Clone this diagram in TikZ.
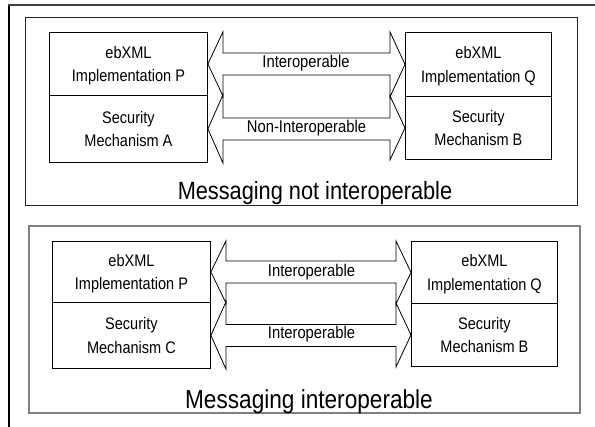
\documentclass[tikz,border=0pt]{standalone}
\usepackage{fontspec}
\setmainfont[FakeStretch=0.87]{Liberation Sans}
\usetikzlibrary{calc}
\tikzset{
  cell/.style={draw=black, line width=0.9pt, inner sep=0pt, align=center,
    text depth=0pt, font=\fontsize{16.7}{23.3}\selectfont, anchor=north west},
  arrowshape/.style={draw=black, line width=0.8pt, line join=miter},
  arrowlabel/.style={anchor=base, inner sep=0pt, font=\fontsize{17}{20}\selectfont},
  titlelabel/.style={anchor=base, inner sep=0pt},
  panel/.style={draw=#1, fill=none},
}
\newcommand{\dblarrow}[2]{%
  \draw[arrowshape] (#1.east)
    -- ($(#1.north east)+(15,0)$)
    -- ($(#1.east)+(15,-11)$)
    -- ($(#2.west |- #1.east)+(-15,-11)$)
    -- ($(#2.north west)+(-15,0)$)
    -- (#2.west)
    -- ($(#2.south west)+(-15,0)$)
    -- ($(#2.west |- #1.east)+(-15,11)$)
    -- ($(#1.east)+(15,11)$)
    -- ($(#1.south east)+(15,0)$)
    -- cycle;}
\begin{document}
\begin{tikzpicture}[x=1pt,y=-1pt]
\useasboundingbox (0,0) rectangle (595,427);
\fill[white] (0,0) rectangle (595,427);
\clip (0,0) rectangle (595,427);
% outer frame (cropped)
\draw[black, line width=2pt] (9,440) -- (9,5);
\draw[black!75, line width=2.4pt] (8,5) -- (600,5);
% ---------- top panel ----------
\draw[black!85, line width=0.9pt] (25,17) rectangle (577,205);
\node[cell, minimum width=158, minimum height=63] (TP1) at (49,32) {ebXML\\Implementation P};
\node[cell, minimum width=158, minimum height=67] (TP2) at (49,95) {Security\\Mechanism A};
\node[cell, minimum width=146, minimum height=64] (TQ1) at (405,32) {ebXML\\Implementation Q};
\node[cell, minimum width=146, minimum height=63] (TQ2) at (405,96) {Security\\Mechanism B};
\dblarrow{TP1}{TQ1}
\dblarrow{TP2}{TQ2}
\node[arrowlabel] (tl1) at (306,68) {Interoperable};
\node[arrowlabel] (tl2) at (306.5,132.5) {Non-Interoperable};
\node[titlelabel, font=\fontsize{25}{30}\selectfont] (tt) at (315,200) {Messaging not interoperable};
% ---------- bottom panel ----------
\draw[black!50, line width=1.4pt] (29,226) rectangle (580,413);
\node[cell, minimum width=158, minimum height=61] (BP1) at (52,241) {ebXML\\Implementation P};
\node[cell, minimum width=158, minimum height=66] (BP2) at (52,302) {Security\\Mechanism C};
\node[cell, minimum width=146, minimum height=62] (BQ1) at (411,241) {ebXML\\Implementation Q};
\node[cell, minimum width=146, minimum height=63] (BQ2) at (411,303) {Security\\Mechanism B};
\dblarrow{BP1}{BQ1}
\dblarrow{BP2}{BQ2}
\node[arrowlabel] (bl1) at (311.5,276.7) {Interoperable};
\node[arrowlabel] (bl2) at (311.5,339) {Interoperable};
\node[titlelabel, font=\fontsize{26}{30}\selectfont] (bt) at (309,408.5) {Messaging interoperable};
\end{tikzpicture}
\end{document}
